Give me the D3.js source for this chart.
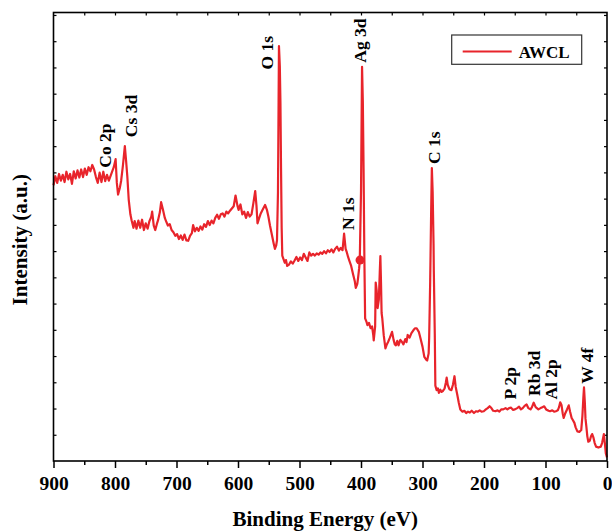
<!DOCTYPE html>
<html>
<head>
<meta charset="utf-8">
<script src="https://cdnjs.cloudflare.com/ajax/libs/d3/7.8.5/d3.min.js"></script>
<style>
  body { margin: 0; background: #fff; }
  text { font-family: "Liberation Serif", "Times New Roman", serif; font-weight: bold; }
</style>
</head>
<body>
<div id="xpsContainer"></div>
<script>

////////////////////// data ////////////////////////////////////////////
// binding energy (eV) and intensity (a.u.)
var bindingEnergy = [900,897,894,891,888,885,882,879,876,873,870,867,864,861,858,855,852,849,846,843,840,837,834,831,828,825,822,819,816,813,810,806,802,799,797,795,792,790,787,784,782,780,777.7,775,773,770,768,765,762,759,756,753,750,747,744,741,739.6,737,734.5,732,730,727,725,722,719,717,714,711,708,705,702,699,696,693,690,687,684,681,678,675,673,670,667,664,661,658,655,652,649,646,643,640,637,634,631,628,625,622,619,616,613,610,607,604,601,599,596,593,590,587,584,581,578,575,572,570,568.3,566,563,560,556,553,550.6,548,545,542,540,538,536.6,535,534,533.4,532,531,530,529,528,526,524,522,520,517,514,511,508,505,502,499,496,493,490,487,484,481,478,475,472,469,466,463,460,457,454,451,448,445,442,439,436,433,430,427.5,425,423,421,419,416,413,410,408.5,406,404.7,403,402,400,398.3,397,395.8,394.5,393.3,391,389.5,387,384.4,382,380,379.3,377,376.1,374.5,373,371,369.5,368.5,367.5,366.5,365.4,363,360.3,358,355.8,353,349.5,347,345,343.2,341,339,336,333.6,331,328,326,324.1,321,318,314.6,312,309.5,306,303.2,300,297,294,292.4,290,289.2,287.5,286,284.8,283.5,282,281.6,280,279.1,277,275,273.4,271,269,267,264,262,260.7,259,256.3,253,250.5,248,246,243.6,241,238.5,235,232,229,226,223,220,216.3,213,210,207,204,200.4,197,194,190.9,188,185,181.4,178,175,172,168.7,165,162,159.2,156,153,149.7,146,143,140,137,134,130.7,128,124.3,122,119.2,116,111.6,108,105,102.1,99,95,92.6,89,86,83.1,80,78,76.1,74,72,70.4,68,65,62.2,60,57.5,55.8,53,51,48.2,45,41.9,40,38.5,37.4,36,35,33.6,32,30.4,28,26,24.1,22,20,17.8,14,10.1,8,6.5,5.1,3.5,1.9,0];

var intensity = [61.5,63.5,62,64,62.5,63.8,62.2,64.5,62.8,64,61.8,64.6,63,64.8,63.2,65,63.3,65.2,63.8,65.5,64.6,66,65,63.3,62,64.3,62.2,64.5,62.4,63.8,62.5,64,65.5,67.3,62,59.4,61,62.5,66,70.2,67,63.5,58.3,55,53.7,52,53.5,51.8,53.6,52,53.8,51.5,53,51.8,53.5,54.5,55.6,52.5,51.5,52.8,53.7,55.5,57.7,56,54.2,53.5,52.5,52.8,51.5,51,50.2,50.6,49.5,50.3,49.3,50.5,49.2,49.1,50.2,50.8,52.6,51.2,52,51.3,52.3,51.6,52.8,52.2,53.5,52.6,53.6,53,54.2,54.9,54,55,55.2,54.5,55.6,55.2,55.8,56.3,56.8,59.2,57,56,57.2,55,55.6,54.2,55.5,54.5,55,57.5,60.2,57,53,54,55.2,56,57.1,56,54.5,52.5,50.5,48.5,47.3,48,49.2,60,80,92.5,88,80,65,52,45.8,45,44.2,44.8,43.5,43.8,44.5,44,44.7,45.5,44.6,45.4,44.8,46.2,45.4,44.6,46.5,45.8,46.2,45.8,46.3,46,46.5,46.2,46.8,46.3,47,46.6,47.2,46.5,47.3,47.8,46.9,47.5,47,50.7,47.3,46.5,45.5,44.7,43.5,41.7,40,38.6,39.5,40.9,43,44.7,60,87.9,80,65,45,31.8,31,30.3,30.8,29.6,30,28,26.9,30,39.8,38,34.1,36,42,45.7,40,33,31.8,28,25.1,26,26.6,27.5,28.8,27,26,25.8,26.8,25.8,27,26.6,26,27.2,26.5,28.1,27.5,28.5,29.2,29.6,29.6,28.8,27.3,25.5,23.2,22.6,22.4,24,27.3,40,55,65.3,60,48,42.4,28,16.8,15.8,16.2,15.2,15.9,15.4,15.6,16.2,17.5,18.6,17,16,15.8,17,18.9,16.5,14.9,13,11.5,11,11.2,10.7,11,10.8,11.2,10.7,11.1,11,11.3,11,11.1,11.5,11.8,12.2,11.8,11.2,11.1,11.3,11,11.5,11.5,11.8,11.5,11.8,11.9,11.4,11.5,11.8,12.1,11.5,11.8,12.3,12.6,11.8,11.5,12,13,12,11.5,11.8,12,12.2,11.5,11.2,11.1,11.3,11,11.1,11.3,12,13.1,12.5,10.6,9.6,10.6,11.5,12.4,11,9.6,9.2,8.5,7.5,6.6,6.5,6.9,10,14,16.4,13,9.5,7.7,5.5,4.3,4.5,5.5,6,5.2,4,3.2,3,3.2,4,5,6,4,1.7,0.8];

// peak assignments: label, energy of the label baseline, intensity where it starts
var peakNames = ["Co 2p", "Cs 3d", "O 1s", "Ag 3d", "N 1s", "C 1s", "P 2p", "Rb 3d", "Al 2p", "W 4f"];
var peakEnergy = [806.5, 764.5, 543, 392, 411.5, 271.5, 148, 109, 81.5, 23];
var peakLabelY = [65.4, 72.2, 87.3, 88.8, 51.5, 66.2, 13.7, 14.5, 13.7, 17.2];

// single marker on the curve near 402 eV
var markerEnergy = [401.6];
var markerIntensity = [44.8];

var seriesName = "AWCL";
var xTicks = [900, 800, 700, 600, 500, 400, 300, 200, 100, 0];

////////////////////// init plot ////////////////////////////////////////////
var width = 612, height = 531;
var margin = { top: 12.5, left: 53.5, right: 5, bottom: 70 };
var plotW = width - margin.left - margin.right;
var plotH = height - margin.top - margin.bottom;
var red = "#e8242b";

var svg = d3.select("#xpsContainer")
  .append("svg")
    .attr("width", width)
    .attr("height", height)
  .append("g")
    .attr("transform", "translate(" + margin.left + "," + margin.top + ")");

var xScale = d3.scaleLinear().domain([900, 0]).range([0, plotW]);
var yScale = d3.scaleLinear().domain([0, 100]).range([plotH, 0]);

var data = bindingEnergy.map(function(d, i) { return { be: d, v: intensity[i] }; });

/////////////////////  axes /////////////////////////////////////////////////////////////
var xAxis = d3.axisBottom(xScale)
  .tickValues(xTicks)
  .tickSize(7)
  .tickPadding(8)
  .tickFormat(d3.format("d"));

var gx = svg.append("g")
  .attr("class", "x_axis")
  .attr("transform", "translate(0," + plotH + ")")
  .call(xAxis);
gx.select(".domain").remove();
gx.selectAll("line").attr("stroke", "#000").attr("stroke-width", 1.5);
gx.selectAll("text")
  .attr("font-size", 19.5)
  .attr("fill", "#000")
  .style("font-family", "'Liberation Serif', 'Times New Roman', serif")
  .style("font-weight", "bold");

// minor ticks every 50 eV
var minor = d3.range(850, 0, -100);
svg.append("g")
  .attr("transform", "translate(0," + plotH + ")")
  .call(d3.axisBottom(xScale).tickValues(minor).tickSize(4).tickFormat(""))
  .call(function(g) { g.select(".domain").remove(); })
  .selectAll("line").attr("stroke-width", 1.5);

// top: small inward ticks
svg.append("g")
  .call(d3.axisBottom(xScale).tickValues(d3.range(850, 0, -50)).tickSize(3).tickFormat(""))
  .call(function(g) { g.select(".domain").remove(); })
  .selectAll("line").attr("stroke-width", 1.2);

// left / right: small inward ticks, no labels
var yTickVals = d3.range(5.85, 100, 5.85);
svg.append("g")
  .call(d3.axisRight(yScale).tickValues(yTickVals).tickSize(3).tickFormat(""))
  .call(function(g) { g.select(".domain").remove(); })
  .selectAll("line").attr("stroke-width", 1.2);
svg.append("g")
  .attr("transform", "translate(" + plotW + ",0)")
  .call(d3.axisLeft(yScale).tickValues(yTickVals).tickSize(3).tickFormat(""))
  .call(function(g) { g.select(".domain").remove(); })
  .selectAll("line").attr("stroke-width", 1.2);

/////////////////////  spectrum /////////////////////////////////////////////////
var line = d3.line()
  .x(function(d) { return xScale(d.be); })
  .y(function(d) { return yScale(d.v); });

svg.append("path")
  .datum(data)
  .attr("d", line)
  .attr("fill", "none")
  .attr("stroke", red)
  .attr("stroke-width", 2.2)
  .attr("stroke-linejoin", "round");

svg.selectAll(".marker")
  .data(markerEnergy)
  .enter().append("circle")
  .attr("class", "marker")
  .attr("cx", function(d) { return xScale(d); })
  .attr("cy", function(d, i) { return yScale(markerIntensity[i]); })
  .attr("r", 4.5)
  .attr("fill", red);

// frame
svg.append("rect")
  .attr("width", plotW)
  .attr("height", plotH)
  .attr("fill", "none")
  .attr("stroke", "#000")
  .attr("stroke-width", 1.6);

/////////////////////  peak labels /////////////////////////////////////////////
svg.selectAll(".peak")
  .data(peakNames)
  .enter().append("text")
  .attr("class", "peak")
  .attr("transform", function(d, i) {
    return "translate(" + xScale(peakEnergy[i]) + "," + yScale(peakLabelY[i]) + ") rotate(-90)";
  })
  .attr("font-size", 17.5)
  .attr("fill", "#000")
  .text(function(d) { return d; });

/////////////////////  titles /////////////////////////////////////////////////
svg.append("text")
  .attr("x", plotW / 2 - 5)
  .attr("y", plotH + 65)
  .attr("text-anchor", "middle")
  .attr("font-size", 21)
  .text("Binding Energy (eV)");

svg.append("text")
  .attr("transform", "translate(" + (-27) + "," + (plotH / 2 + 3) + ") rotate(-90)")
  .attr("text-anchor", "middle")
  .attr("font-size", 21)
  .text("Intensity (a.u.)");

/////////////////////  legend /////////////////////////////////////////////////
var legend = svg.append("g")
  .attr("transform", "translate(" + (451.7 - margin.left) + "," + (35 - margin.top) + ")");

legend.append("rect")
  .attr("width", 130)
  .attr("height", 29.3)
  .attr("fill", "#fff")
  .attr("stroke", "#333")
  .attr("stroke-width", 1.2);

legend.append("line")
  .attr("x1", 11).attr("x2", 60)
  .attr("y1", 16.5).attr("y2", 16.5)
  .attr("stroke", red)
  .attr("stroke-width", 2);

legend.append("text")
  .attr("x", 67)
  .attr("y", 22.5)
  .attr("font-size", 17)
  .text(seriesName);

</script>
</body>
</html>
